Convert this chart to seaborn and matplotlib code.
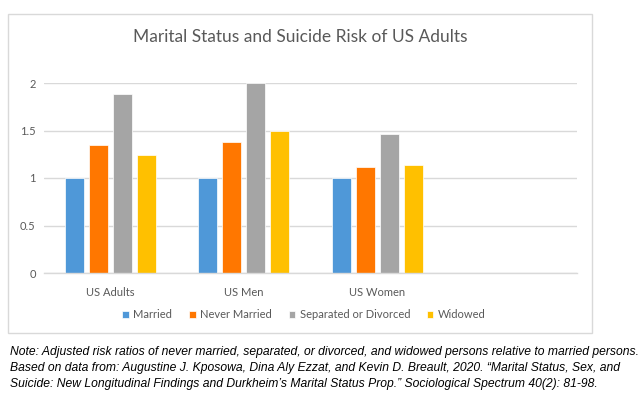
import matplotlib
matplotlib.use("Agg")
import matplotlib.pyplot as plt
import seaborn as sns
import pandas as pd
from matplotlib.patches import Rectangle

groups = ["US Adults", "US Men", "US Women", " "]
statuses = ["Married", "Never Married", "Separated or Divorced", "Widowed"]
married = [1.00, 1.00, 1.00]
never_married = [1.35, 1.38, 1.12]
separated = [1.88, 2.00, 1.46]
widowed = [1.24, 1.50, 1.14]
colors = ["#4F98D8", "#FF7700", "#A5A5A5", "#FFC000"]
yticks = [0, 0.5, 1, 1.5, 2]
yticklabels = ["0", "0.5", "1", "1.5", "2"]
title = "Marital Status and Suicide Risk of US Adults"
note = ("Note: Adjusted risk ratios of never married, separated, or divorced, and widowed persons relative to married persons.\n"
        "Based on data from: Augustine J. Kposowa, Dina Aly Ezzat, and Kevin D. Breault, 2020. \u201cMarital Status, Sex, and\n"
        "Suicide: New Longitudinal Findings and Durkheim\u2019s Marital Status Prop.\u201d Sociological Spectrum 40(2): 81-98.")

rows = []
for i, g in enumerate(groups[:3]):
    for s, vals in zip(statuses, [married, never_married, separated, widowed]):
        rows.append({"group": g, "status": s, "value": vals[i]})
df = pd.DataFrame(rows)

sns.set_theme(style="white")
plt.rcParams["font.family"] = ["Lato", "DejaVu Sans"]

fig = plt.figure(figsize=(6.4, 3.93), dpi=100)
ax = fig.add_axes([44/640, 1-273/393, (577-44)/640, (273-83)/393])

sns.barplot(data=df, x="group", y="value", hue="status", order=groups,
            hue_order=statuses, palette=colors, saturation=1, width=0.72, gap=0.2,
            edgecolor="white", linewidth=0.5, ax=ax, legend=True)

ax.set_xlim(-0.5, 3.5)
ax.set_ylim(0, 2.0)
ax.set_yticks(yticks)
ax.set_yticklabels(yticklabels)
ax.yaxis.grid(True, color="#D9D9D9", linewidth=1)
ax.set_axisbelow(True)
for sp in ["top", "right", "left"]:
    ax.spines[sp].set_visible(False)
ax.spines["bottom"].set_color("#D9D9D9")
ax.spines["bottom"].set_linewidth(1)
ax.tick_params(axis="both", length=0, colors="#595959", labelsize=8)
ax.tick_params(axis="x", pad=10)
ax.tick_params(axis="y", pad=6)
ax.set_xlabel("")
ax.set_ylabel("")

handles, labels = ax.get_legend_handles_labels()
ax.get_legend().remove()
leg = fig.legend(handles, labels, loc="center", bbox_to_anchor=(304/640, 1-315/393),
                 ncol=4, frameon=False, fontsize=8, handlelength=0.6, handleheight=0.6,
                 handletextpad=0.4, columnspacing=1.5, labelcolor="#595959")

fig.text(300/640, 1-37/393, title, ha="center", va="center", fontsize=12.5, color="#595959")

fig.patches.append(Rectangle((8/640, 1-333/393), 584/640, 319/393, transform=fig.transFigure,
                             fill=False, edgecolor="#D9D9D9", linewidth=1))

fig.text(10/640, 1-346/393, note, ha="left", va="top", fontsize=8.7, style="italic",
         family=["Liberation Sans", "DejaVu Sans"], linespacing=1.42, color="black")

fig.savefig("out.png", dpi=100, facecolor="white")
